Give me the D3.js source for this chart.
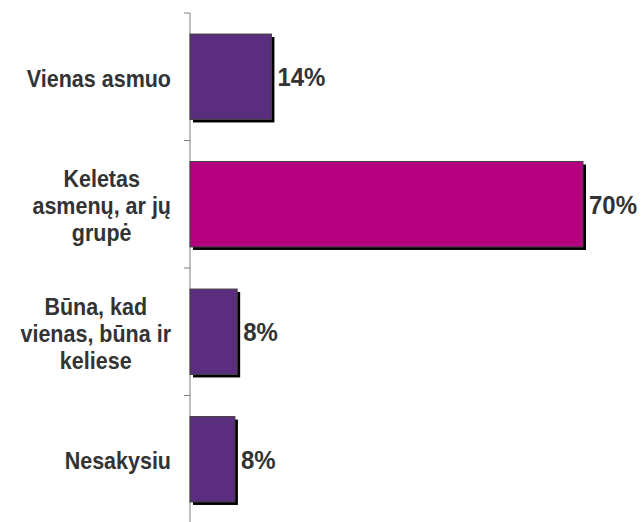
<!DOCTYPE html>
<html>
<head>
<meta charset="utf-8">
<script src="https://cdn.jsdelivr.net/npm/d3@7"></script>
<style>
  body { margin: 0; background: #fff; }
  text { font-family: "Liberation Sans", Arial, sans-serif; font-weight: bold; fill: #333; }
</style>
</head>
<body>
<svg id="chart" width="643" height="522"></svg>
<script>
// categories, one line of the label per entry
var categories = ["Vienas asmuo", "Keletas asmenų, ar jų grupė", "Būna, kad vienas, būna ir keliese", "Nesakysiu"];
var labelLines = [["Vienas asmuo"], ["Keletas", "asmenų, ar jų", "grupė"], ["Būna, kad", "vienas, būna ir", "keliese"], ["Nesakysiu"]];
var values = [14.5, 70, 8.4, 8];
var valueLabels = ["14%", "70%", "8%", "8%"];
var barColors = ["#5b2d7e", "#b4007f", "#5b2d7e", "#5b2d7e"];

var svg = d3.select("#chart");
var x0 = 190;

var x = d3.scaleLinear()
    .domain([0, 70])
    .range([x0, 583]);

var y = d3.scaleBand()
    .domain(categories)
    .range([13, 523])
    .paddingInner(0.33)
    .paddingOuter(0.165);

// axis line + ticks at band boundaries
var step = y.step();
var bounds = d3.range(categories.length + 1).map(i => 13 + i * step);
svg.append("line")
    .attr("x1", x0).attr("x2", x0)
    .attr("y1", 13).attr("y2", 523)
    .attr("stroke", "#808080").attr("stroke-width", 1);
svg.selectAll(".tick")
    .data(bounds)
    .enter().append("line")
    .attr("class", "tick")
    .attr("x1", x0 - 6).attr("x2", x0)
    .attr("y1", d => d).attr("y2", d => d)
    .attr("stroke", "#808080");

var g = svg.selectAll(".bar")
    .data(categories)
    .enter().append("g")
    .attr("class", "bar");

// shadow
g.append("rect")
    .attr("x", x0 + 3)
    .attr("y", d => y(d) + 3)
    .attr("width", (d, i) => x(values[i]) - x0)
    .attr("height", y.bandwidth())
    .attr("fill", "#000");

g.append("rect")
    .attr("x", x0)
    .attr("y", d => y(d))
    .attr("width", (d, i) => x(values[i]) - x0)
    .attr("height", y.bandwidth())
    .attr("fill", (d, i) => barColors[i])
    .attr("stroke", "#444")
    .attr("stroke-width", 1);

// text in the original is a bit taller than wide
function stretch(cy, k) {
  return "translate(0," + cy + ") scale(1," + k + ") translate(0," + (-cy) + ")";
}

g.append("text")
    .attr("x", (d, i) => x(values[i]) + 6)
    .attr("y", d => y(d) + y.bandwidth() / 2)
    .attr("dy", "0.36em")
    .attr("font-size", 24)
    .attr("transform", d => stretch(y(d) + y.bandwidth() / 2, 1.08))
    .text((d, i) => valueLabels[i]);

// category labels: centred lines, block right-aligned to 171
var lineH = 27;
categories.forEach(function(c, i) {
  var lines = labelLines[i];
  var cy = y(c) + y.bandwidth() / 2 + 1;
  var t = svg.append("text")
      .attr("font-size", 21.5)
      .attr("text-anchor", "middle")
      .attr("transform", stretch(cy, 1.14));
  var spans = lines.map(function(l, j) {
    return t.append("tspan")
        .attr("y", cy + (j - (lines.length - 1) / 2) * lineH / 1.14)
        .attr("dy", "0.36em")
        .text(l);
  });
  var maxW = d3.max(spans, s => s.node().getComputedTextLength());
  spans.forEach(s => s.attr("x", 171 - maxW / 2));
});
</script>
</body>
</html>
